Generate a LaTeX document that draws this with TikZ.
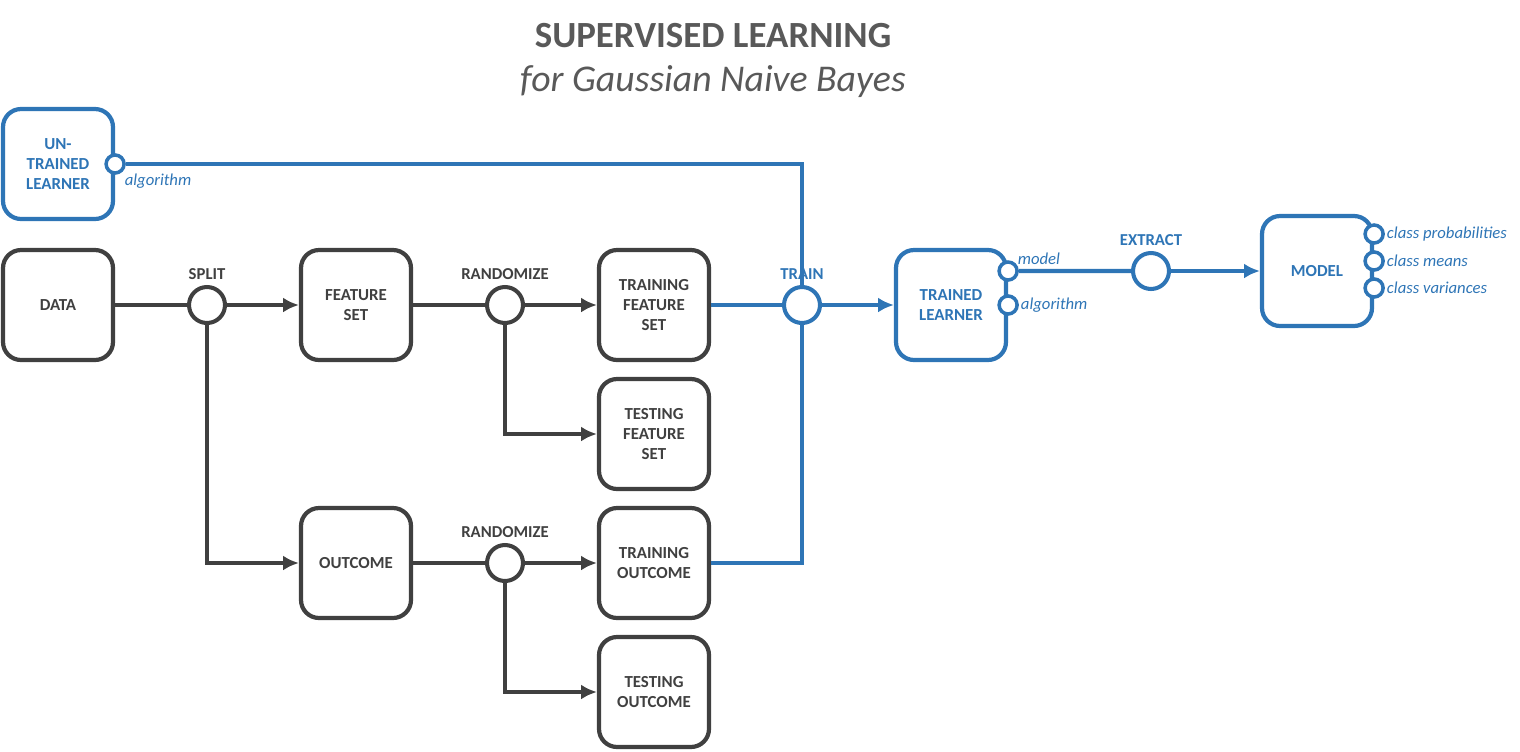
\documentclass[tikz,border=0pt]{standalone}
\usepackage{fontspec}
\setmainfont{Carlito}
\usepackage{xcolor}
\usetikzlibrary{arrows, arrows.meta, positioning}
\definecolor{mygray}{RGB}{64,64,64}
\definecolor{myblue}{RGB}{46,117,182}
\definecolor{titlegray}{RGB}{89,89,89}

\tikzset{
  box/.style={draw, rounded corners=0.36cm, line width=2.4pt, fill=white,
    minimum width=2.2cm, minimum height=2.2cm, align=center,
    font=\bfseries\fontsize{9.6}{11.5}\selectfont},
  junction/.style={draw, circle, line width=2.3pt, fill=white, inner sep=0pt,
    minimum size=0.72cm},
  port/.style={draw=myblue, circle, line width=2pt, fill=white, inner sep=0pt,
    minimum size=0.36cm},
  steplabel/.style={font=\bfseries\fontsize{9.5}{11}\selectfont, inner sep=1pt},
  portlabel/.style={text=myblue, font=\itshape\fontsize{9.5}{11}\selectfont, inner sep=1pt},
  flow/.style={line width=2.3pt},
  tip/.style={-{Latex[length=9pt, width=8.5pt]}},
}

\begin{document}
\begin{tikzpicture}[x=0.02cm, y=-0.02cm]
\useasboundingbox (0,0) rectangle (1520,751);

% title
\node[text=titlegray, font=\bfseries\fontsize{21}{25}\selectfont] (title) at (713,36) {SUPERVISED LEARNING};
\node[text=titlegray, font=\itshape\fontsize{21.5}{25}\selectfont] (subtitle) at (713,82) {for Gaussian Naive Bayes};

% gray part
\begin{scope}[mygray, text=mygray]
\node[box] (data) at (58,305) {DATA};
\node[junction] (split) at (207,305) {};
\node[steplabel, above=2pt of split] {SPLIT};
\node[box] (feat) at (356,305) {FEATURE\\SET};
\node[box] (outcome) at (356,563) {OUTCOME};

\node[junction] (randf) at (505,305) {};
\node[steplabel, above=2pt of randf] {RANDOMIZE};
\node[junction] (rando) at (505,563) {};
\node[steplabel, above=2pt of rando] {RANDOMIZE};

\node[box] (trainfeat) at (654,305) {TRAINING\\FEATURE\\SET};
\node[box] (testfeat) at (654,434) {TESTING\\FEATURE\\SET};
\node[box] (trainout) at (654,563) {TRAINING\\OUTCOME};
\node[box] (testout) at (654,692) {TESTING\\OUTCOME};

\draw[flow] (data) -- (split);
\draw[flow, tip] (split) -- (feat);
\draw[flow, tip] (split) |- (outcome);
\draw[flow] (feat) -- (randf);
\draw[flow, tip] (randf) -- (trainfeat);
\draw[flow, tip] (randf) |- (testfeat);
\draw[flow] (outcome) -- (rando);
\draw[flow, tip] (rando) -- (trainout);
\draw[flow, tip] (rando) |- (testout);
\end{scope}

% blue part
\begin{scope}[myblue, text=myblue]
\node[box] (untrained) at (58,164) {UN-\\TRAINED\\LEARNER};
\node[junction] (train) at (802,305) {};
\node[steplabel, above=2pt of train] {TRAIN};
\node[box] (trained) at (951,305) {TRAINED\\LEARNER};
\node[junction] (extract) at (1151,271) {};
\node[steplabel, above=2pt of extract] {EXTRACT};
\node[box] (model) at (1317,271) {MODEL};

\node[port] (uport) at (untrained.east) {};
\node[portlabel, anchor=north west] at (uport.south east) {algorithm};

\node[port] (mport) at ([yshift=0.68cm]trained.east) {};
\node[port] (aport) at (trained.east) {};
\node[portlabel, anchor=south west] at ([yshift=-2pt]mport.north east) {model};
\node[portlabel, anchor=west] at (aport.east) {algorithm};

\node[port] (prob) at ([yshift=0.74cm]model.east) {};
\node[port] (mean) at ([yshift=0.2cm]model.east) {};
\node[port] (var) at ([yshift=-0.34cm]model.east) {};
\node[portlabel, anchor=west] at (prob.east) {class probabilities};
\node[portlabel, anchor=west] at (mean.east) {class means};
\node[portlabel, anchor=west] at (var.east) {class variances};

\draw[flow] (uport) -| (train);
\draw[flow] (trainfeat) -- (train);
\draw[flow] (trainout) -| (train);
\draw[flow, tip] (train) -- (trained);
\draw[flow] (mport) -- (extract);
\draw[flow, tip] (extract) -- (model);
\end{scope}

\end{tikzpicture}
\end{document}
